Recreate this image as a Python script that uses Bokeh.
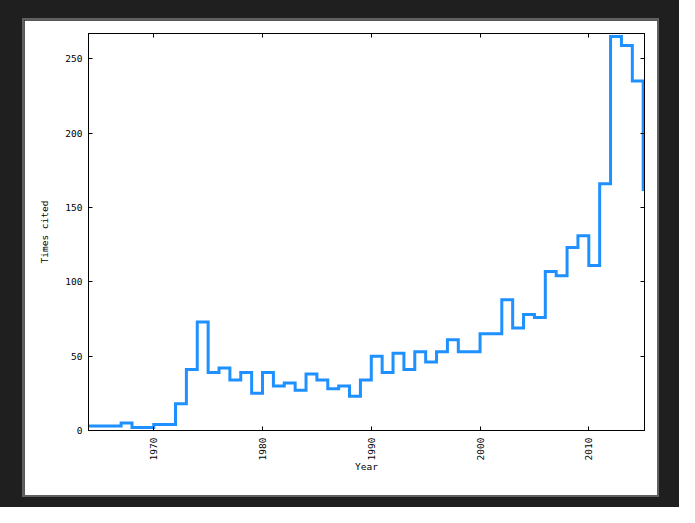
import math
from bokeh.plotting import figure
from bokeh.models import LinearAxis, FixedTicker, Range1d, Spacer
from bokeh.layouts import row, column
from bokeh.embed import file_html
from bokeh.resources import INLINE

# Data (citations per year, step plot)
years = list(range(1964, 2016))
cites = [3, 3, 3, 5, 2, 2, 4, 4, 18, 41,
         73, 39, 42, 34, 39, 25, 39, 30, 32, 27,
         38, 34, 28, 30, 23, 34, 50, 39, 52, 41,
         53, 46, 53, 61, 53, 53, 65, 65, 88, 69,
         78, 76, 107, 104, 123, 131, 111, 166, 265, 259,
         235, 161]

x_ticks = [1970, 1980, 1990, 2000, 2010]
y_ticks = [0, 50, 100, 150, 200, 250]

FONT = "DejaVu Sans Mono"
FSIZE = "9.5px"

p = figure(width=633, height=475,
           x_range=Range1d(1964, 2015.12), y_range=Range1d(0, 267),
           output_backend="svg", toolbar_location=None,
           min_border_left=64, min_border_right=13,
           min_border_top=13, min_border_bottom=65,
           x_axis_label="Year", y_axis_label="Times cited")

p.step(years, cites, mode="after", line_color="#1E90FF", line_width=3,
       line_join="miter")

p.background_fill_color = "white"
p.border_fill_color = "white"
p.outline_line_color = "black"
p.outline_line_width = 1
p.grid.visible = False

# bottom axis
xa = p.xaxis[0]
xa.ticker = FixedTicker(ticks=x_ticks)
xa.major_label_orientation = math.pi / 2
xa.major_label_standoff = 7
xa.axis_label_standoff = -2

ya = p.yaxis[0]
ya.ticker = FixedTicker(ticks=y_ticks)
ya.major_label_standoff = 6
ya.axis_label_standoff = 12

for ax in (xa, ya):
    ax.major_tick_in = 4
    ax.major_tick_out = 0
    ax.minor_tick_line_color = None
    ax.axis_line_color = "black"
    ax.major_tick_line_color = "black"
    ax.major_label_text_font = FONT
    ax.major_label_text_font_size = FSIZE
    ax.major_label_text_color = "black"
    ax.axis_label_text_font = FONT
    ax.axis_label_text_font_size = FSIZE
    ax.axis_label_text_font_style = "normal"
    ax.axis_label_text_color = "black"

# mirrored ticks on top and right
top = LinearAxis(ticker=FixedTicker(ticks=x_ticks))
right = LinearAxis(ticker=FixedTicker(ticks=y_ticks))
for ax in (top, right):
    ax.major_tick_in = 4
    ax.major_tick_out = 0
    ax.minor_tick_line_color = None
    ax.axis_line_color = "black"
    ax.major_tick_line_color = "black"
    ax.major_label_text_color = None
    ax.major_label_text_font_size = "1px"
    ax.major_label_standoff = 0
p.add_layout(top, "above")
p.add_layout(right, "right")

p.styles = {"outline": "2px solid #606060"}

inner = column(Spacer(width=633, height=20), p, Spacer(width=633, height=12))
page = row(Spacer(width=24, height=507), inner, Spacer(width=22, height=507),
           styles={"background-color": "#1f1f1f"})

open("out.html", "w").write(file_html(page, INLINE))
